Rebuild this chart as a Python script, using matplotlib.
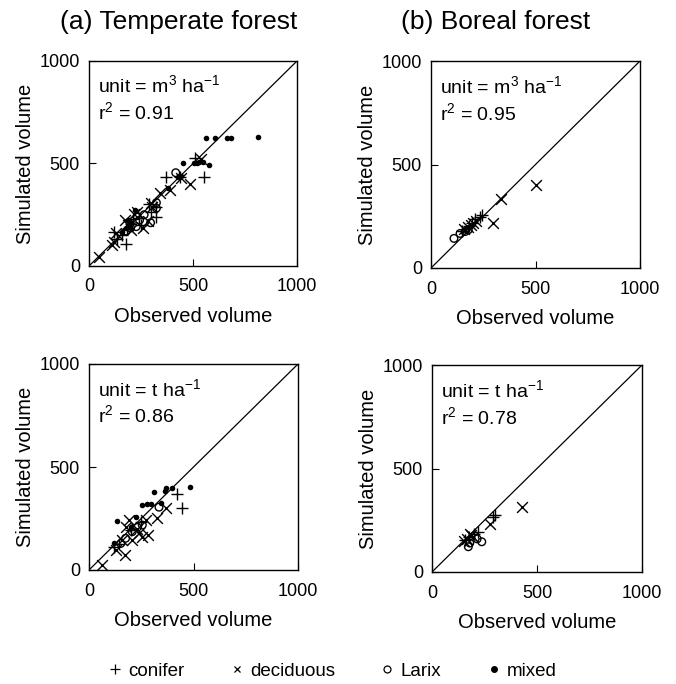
import numpy as np
import matplotlib
matplotlib.use("Agg")
import matplotlib.pyplot as plt
from matplotlib.lines import Line2D

plt.rcParams["font.family"] = ["Liberation Sans", "DejaVu Sans"]
plt.rcParams["mathtext.fontset"] = "custom"
plt.rcParams["mathtext.rm"] = "Liberation Sans"
plt.rcParams["mathtext.it"] = "Liberation Sans"

# temperate forest, volume (m3/ha): observed, simulated
tv_conifer_obs = [372, 437, 555, 512, 324, 320, 178, 121, 200, 185, 160, 240, 300, 250, 135, 210, 290]
tv_conifer_sim = [436, 433, 433, 526, 240, 290, 107, 167, 205, 180, 150, 235, 265, 200, 130, 230, 300]
tv_decid_obs = [485, 49, 121, 259, 340, 388, 299, 215, 186, 129, 540, 285, 175, 230, 110, 200, 305, 440]
tv_decid_sim = [400, 45, 118, 184, 355, 371, 306, 255, 200, 160, 520, 220, 225, 265, 100, 175, 290, 430]
tv_larix_obs = [417, 296, 324, 324, 243, 227, 200, 265, 180]
tv_larix_sim = [455, 211, 282, 309, 224, 192, 185, 250, 170]
tv_mixed_obs = [563, 607, 663, 683, 814, 453, 506, 518, 550, 578, 429, 380, 222, 186, 194, 200, 180, 530, 160, 440]
tv_mixed_sim = [623, 623, 623, 623, 631, 504, 501, 501, 509, 493, 436, 379, 273, 225, 192, 210, 185, 505, 165, 440]

# temperate forest, biomass (t/ha)
tb_conifer_obs = [423, 443, 120, 145, 250, 200]
tb_conifer_sim = [367, 300, 113, 125, 235, 195]
tb_decid_obs = [64, 370, 327, 274, 191, 175, 172, 128, 239, 207, 255, 160, 230, 280]
tb_decid_sim = [24, 302, 254, 243, 243, 210, 72, 97, 178, 145, 162, 145, 200, 170]
tb_larix_obs = [231, 207, 175, 152, 335, 255]
tb_larix_sim = [207, 186, 154, 129, 305, 218]
tb_mixed_obs = [483, 399, 370, 364, 309, 252, 279, 295, 343, 134, 223, 199, 120]
tb_mixed_sim = [404, 396, 396, 383, 379, 314, 319, 319, 327, 239, 256, 207, 129]

# boreal forest, volume (m3/ha)
bv_conifer_obs = [234, 210, 180, 150, 245, 195]
bv_conifer_sim = [248, 236, 205, 180, 255, 215]
bv_decid_obs = [502, 333, 298, 190, 175, 200, 160, 215]
bv_decid_sim = [401, 332, 219, 210, 200, 215, 190, 225]
bv_larix_obs = [110, 139, 163, 178]
bv_larix_sim = [143, 167, 176, 184]

# boreal forest, biomass (t/ha)
bb_conifer_obs = [300, 290, 220, 200, 175, 155]
bb_conifer_sim = [275, 265, 195, 185, 170, 155]
bb_decid_obs = [427, 276, 185, 165, 180, 150, 195]
bb_decid_sim = [312, 232, 180, 160, 185, 150, 170]
bb_larix_obs = [173, 237, 215, 180]
bb_larix_sim = [122, 146, 160, 140]

units = ["unit = m$^3$ ha$^{-1}$", "unit = m$^3$ ha$^{-1}$", "unit = t ha$^{-1}$", "unit = t ha$^{-1}$"]
r2_vals = ["0.91", "0.95", "0.86", "0.78"]
titles = ["(a) Temperate forest", "(b) Boreal forest"]

panels = [
    [(tv_conifer_obs, tv_conifer_sim), (tv_decid_obs, tv_decid_sim), (tv_larix_obs, tv_larix_sim), (tv_mixed_obs, tv_mixed_sim)],
    [(bv_conifer_obs, bv_conifer_sim), (bv_decid_obs, bv_decid_sim), (bv_larix_obs, bv_larix_sim), None],
    [(tb_conifer_obs, tb_conifer_sim), (tb_decid_obs, tb_decid_sim), (tb_larix_obs, tb_larix_sim), (tb_mixed_obs, tb_mixed_sim)],
    [(bb_conifer_obs, bb_conifer_sim), (bb_decid_obs, bb_decid_sim), (bb_larix_obs, bb_larix_sim), None],
]

W, H = 676, 684
fig = plt.figure(figsize=(W / 100, H / 100), dpi=100)
boxes = [(89, 61, 297, 266), (431, 61, 640, 268), (89, 364, 298, 570), (432, 365, 642, 572)]

styles = [
    dict(marker="+", s=85, c="black", linewidths=1.0),
    dict(marker="x", s=60, c="black", linewidths=1.0),
    dict(marker="o", s=30, facecolors="none", edgecolors="black", linewidths=1.0),
    dict(marker="o", s=16, c="black", linewidths=0),
]

for i, (x0, y0, x1, y1) in enumerate(boxes):
    ax = fig.add_axes([x0 / W, 1 - y1 / H, (x1 - x0) / W, (y1 - y0) / H])
    ax.plot([0, 1000], [0, 1000], color="black", lw=0.9)
    for data, st in zip(panels[i], styles):
        if data is None:
            continue
        ax.scatter(data[0], data[1], clip_on=False, zorder=3, **st)
    ax.set_xlim(0, 1000)
    ax.set_ylim(0, 1000)
    ax.set_xticks([0, 500, 1000])
    ax.set_yticks([0, 500, 1000])
    ax.tick_params(direction="in", length=5, width=0.8, labelsize=13)
    ax.tick_params(axis="x", pad=9)
    ax.tick_params(axis="y", pad=6.5)
    for sp in ax.spines.values():
        sp.set_linewidth(1.0)
    ax.set_xlabel("Observed volume", fontsize=14.5, labelpad=8)
    ax.set_ylabel("Simulated volume", fontsize=14.5, labelpad=3)
    ax.text(0.045, 0.88, units[i], transform=ax.transAxes, fontsize=14, va="center")
    ax.text(0.045, 0.75, "r$^2$ = " + r2_vals[i], transform=ax.transAxes, fontsize=14, va="center")

fig.text(179 / W, 1 - 22 / H, titles[0], fontsize=19, ha="center", va="center")
fig.text(496 / W, 1 - 22 / H, titles[1], fontsize=19, ha="center", va="center")

handles = [
    Line2D([], [], ls="none", marker="+", ms=6.5, color="black", mew=0.9),
    Line2D([], [], ls="none", marker="x", ms=5, color="black", mew=0.9),
    Line2D([], [], ls="none", marker="o", ms=5, mfc="none", mec="black", mew=0.9),
    Line2D([], [], ls="none", marker="o", ms=4, color="black"),
]
fig.legend(handles, ["conifer", "deciduous", "Larix", "mixed"], loc="center",
           bbox_to_anchor=(333 / W, 1 - 671 / H), ncol=4, frameon=False,
           fontsize=13.5, handlelength=0.6, handletextpad=0.4, columnspacing=2.5)

fig.savefig("out.png", dpi=100)
